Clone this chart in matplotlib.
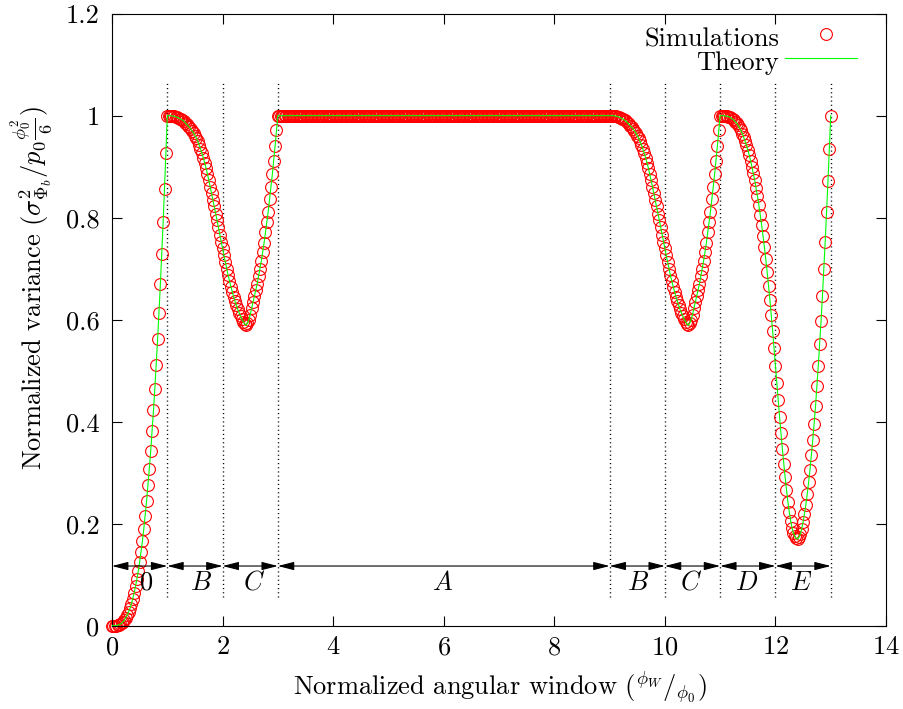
import numpy as np
import matplotlib
matplotlib.use("Agg")
import matplotlib.pyplot as plt

OUTPUT_FILE = "out.png"

# Window axis: samples every 0.025 phi_0 from 0 to 13
WINDOW_STEP = 0.025

# Normalized variance, segment by segment
# segment 0  (0 .. 1)
VAR_SEG_0 = [
    0.000, 0.000, 0.000, 0.000, 0.001, 0.002, 0.003, 0.005, 0.008, 0.011,
    0.016, 0.021, 0.027, 0.034, 0.043, 0.053, 0.064, 0.077, 0.091, 0.107,
    0.125, 0.145, 0.166, 0.190, 0.216, 0.244, 0.275, 0.308, 0.343, 0.381,
    0.422, 0.465, 0.512, 0.562, 0.614, 0.670, 0.729, 0.791, 0.857, 0.927,
    1.000,
]
# segments B and C (1.025 .. 3)
VAR_SEG_BC_1 = [
    1.000, 1.000, 1.000, 0.999, 0.999, 0.998, 0.997, 0.996, 0.994, 0.993,
    0.991, 0.989, 0.986, 0.983, 0.980, 0.977, 0.974, 0.970, 0.966, 0.961,
    0.956, 0.950, 0.943, 0.935, 0.927, 0.918, 0.908, 0.898, 0.886, 0.874,
    0.861, 0.848, 0.835, 0.822, 0.808, 0.795, 0.781, 0.767, 0.753, 0.740,
    0.726, 0.713, 0.700, 0.687, 0.676, 0.665, 0.655, 0.645, 0.636, 0.628,
    0.620, 0.613, 0.607, 0.601, 0.596, 0.592, 0.589, 0.593, 0.600, 0.610,
    0.622, 0.634, 0.646, 0.658, 0.670, 0.685, 0.700, 0.715, 0.732, 0.750,
    0.771, 0.791, 0.812, 0.836, 0.860, 0.885, 0.912, 0.941, 0.971, 1.000,
]
# segment A (3.025 .. 9): flat at one
VAR_SEG_A = [1.0] * 240
# segments B and C again (9.025 .. 11)
VAR_SEG_BC_2 = [
    1.000, 1.000, 1.000, 0.999, 0.999, 0.998, 0.997, 0.996, 0.994, 0.993,
    0.991, 0.989, 0.986, 0.983, 0.980, 0.977, 0.974, 0.970, 0.966, 0.961,
    0.956, 0.950, 0.943, 0.935, 0.927, 0.918, 0.908, 0.898, 0.886, 0.874,
    0.861, 0.848, 0.835, 0.822, 0.808, 0.795, 0.781, 0.767, 0.753, 0.740,
    0.726, 0.713, 0.700, 0.687, 0.676, 0.665, 0.655, 0.645, 0.636, 0.628,
    0.620, 0.613, 0.607, 0.601, 0.596, 0.592, 0.589, 0.593, 0.600, 0.610,
    0.622, 0.634, 0.646, 0.658, 0.670, 0.685, 0.700, 0.715, 0.732, 0.750,
    0.771, 0.791, 0.812, 0.836, 0.860, 0.885, 0.912, 0.941, 0.971, 1.000,
]
# segments D and E (11.025 .. 13)
VAR_SEG_DE = [
    1.000, 1.000, 1.000, 0.999, 0.999, 0.998, 0.997, 0.995, 0.993, 0.991,
    0.988, 0.985, 0.981, 0.976, 0.971, 0.965, 0.958, 0.950, 0.942, 0.933,
    0.923, 0.912, 0.900, 0.887, 0.873, 0.858, 0.842, 0.825, 0.806, 0.786,
    0.765, 0.743, 0.719, 0.694, 0.667, 0.639, 0.609, 0.577, 0.544, 0.510,
    0.476, 0.442, 0.409, 0.377, 0.347, 0.318, 0.291, 0.266, 0.243, 0.223,
    0.206, 0.192, 0.182, 0.175, 0.171, 0.170, 0.173, 0.180, 0.190, 0.203,
    0.219, 0.237, 0.258, 0.281, 0.306, 0.334, 0.364, 0.396, 0.430, 0.469,
    0.510, 0.552, 0.597, 0.646, 0.699, 0.753, 0.811, 0.871, 0.934, 1.000,
]

# Regions of the window axis
SEGMENT_EDGES = [0, 1, 2, 3, 9, 10, 11, 12, 13]
SEGMENT_LABELS = ["0", "$B$", "$C$", "$A$", "$B$", "$C$", "$D$", "$E$"]

X_TICKS = [0, 2, 4, 6, 8, 10, 12, 14]
Y_TICKS = [0, 0.2, 0.4, 0.6, 0.8, 1.0, 1.2]
Y_TICK_LABELS = ["0", "0.2", "0.4", "0.6", "0.8", "1", "1.2"]

# layout of the annotation row
ARROW_Y = 0.117
LABEL_Y = 0.084
LABEL_X = [0.63, 1.61, 2.57, 5.97, 9.51, 10.48, 11.48, 12.46]

MARKER = dict(mfc="none", mec="red", ms=8.5, mew=0.8)


def build_series():
    variance = np.array(
        VAR_SEG_0 + VAR_SEG_BC_1 + VAR_SEG_A + VAR_SEG_BC_2 + VAR_SEG_DE
    )
    window = np.arange(len(variance)) * WINDOW_STEP
    return window, variance


def draw_regions(ax):
    # dotted separators
    ax.vlines(SEGMENT_EDGES[1:], 0.056, 1.066, colors="black",
              linestyles=(0, (0.8, 2.2)), linewidth=1.0, zorder=1)
    # double headed arrows for each region
    for a, b in zip(SEGMENT_EDGES[:-1], SEGMENT_EDGES[1:]):
        ax.annotate(
            "", xy=(b, ARROW_Y), xytext=(a, ARROW_Y),
            arrowprops=dict(arrowstyle="<|-|>,head_length=0.7,head_width=0.18",
                            color="black", lw=0.8, shrinkA=0, shrinkB=0,
                            mutation_scale=14),
            zorder=4,
        )
    for xpos, lab in zip(LABEL_X, SEGMENT_LABELS):
        ax.text(xpos, LABEL_Y, lab, ha="center", va="center", fontsize=19)


def draw_legend(ax):
    ax.text(0.8618, 0.947, "Simulations", transform=ax.transAxes,
            ha="right", va="baseline", fontsize=19)
    ax.plot([0.9221], [0.9668], "o", transform=ax.transAxes,
            clip_on=False, **MARKER)
    ax.text(0.8618, 0.908, "Theory", transform=ax.transAxes,
            ha="right", va="baseline", fontsize=19)
    ax.plot([0.8695, 0.9625], [0.9275, 0.9275], transform=ax.transAxes,
            color="#00ff00", lw=0.8, clip_on=False)


def main():
    plt.rcParams.update({
        "font.family": "serif",
        "font.serif": ["cmr10"],
        "mathtext.fontset": "cm",
        "axes.formatter.use_mathtext": True,
        "font.size": 19,
    })

    window, variance = build_series()

    fig = plt.figure(figsize=(9.04, 7.09), dpi=100)
    ax = fig.add_axes([0.1239, 0.1175, 0.8562, 0.8632])

    ax.plot(window, variance, "o", clip_on=False, zorder=2, **MARKER)
    ax.plot(window, variance, color="#00ff00", lw=0.8, zorder=3)

    draw_regions(ax)
    draw_legend(ax)

    ax.set_xlim(0, 14)
    ax.set_ylim(0, 1.2)
    ax.set_xticks(X_TICKS)
    ax.set_yticks(Y_TICKS)
    ax.set_yticklabels(Y_TICK_LABELS)
    ax.tick_params(direction="in", length=7.5, width=0.8, top=True,
                   right=True, labelsize=19)
    ax.tick_params(axis="x", pad=7)
    ax.tick_params(axis="y", pad=9)
    for spine in ax.spines.values():
        spine.set_linewidth(0.8)

    ax.text(0.501, -0.102, r"Normalized angular window $({}^{\phi_W}/{}_{\phi_0})$",
            transform=ax.transAxes, ha="center", va="center", fontsize=19)
    ax.text(-0.1047, 0.552,
            r"Normalized variance $(\sigma^2_{\Phi_b}/p_0\frac{\phi_0^2}{6})$",
            transform=ax.transAxes, ha="center", va="center", rotation=90,
            fontsize=19)

    fig.savefig(OUTPUT_FILE, dpi=100)
    plt.close(fig)


if __name__ == "__main__":
    main()
